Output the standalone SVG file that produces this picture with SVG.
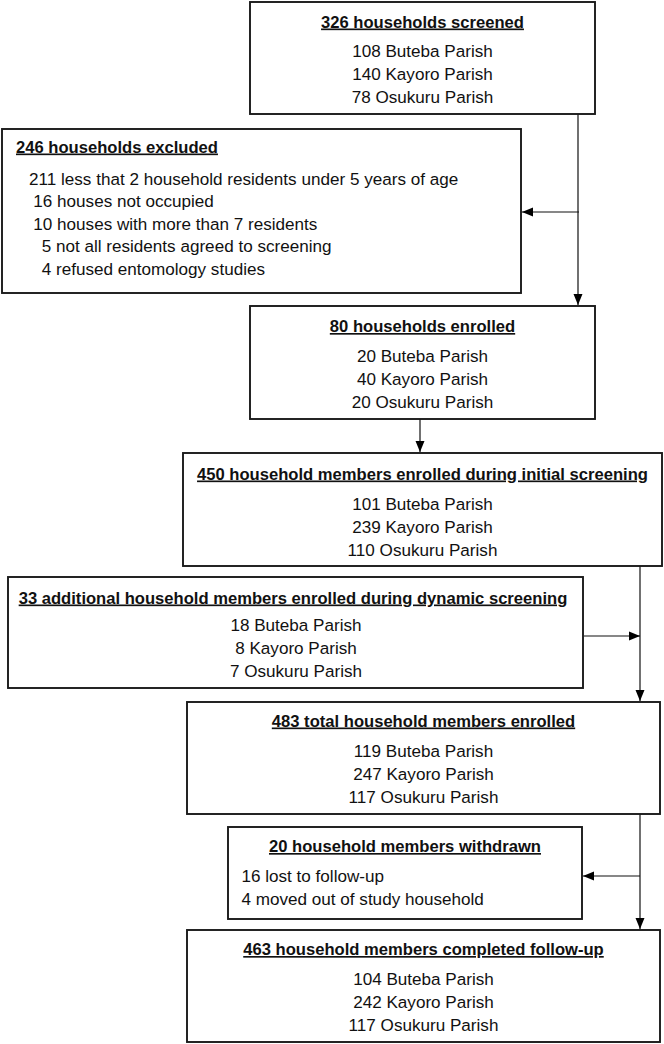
<svg xmlns="http://www.w3.org/2000/svg" width="664" height="1044" viewBox="0 0 664 1044">
<style>
.box{fill:#fff;stroke:#1a1a1a;stroke-width:1.9}
text{font-family:"Liberation Sans",Arial,sans-serif;font-size:17.1px;fill:#111}
.t{font-weight:bold;font-size:16.6px;text-decoration:underline}
.c{text-anchor:middle}
.ln{fill:none;stroke:#111;stroke-width:1.2}
</style>
<defs>
<marker id="ah" markerUnits="userSpaceOnUse" markerWidth="12" markerHeight="10" refX="11" refY="5" orient="auto">
<path d="M0,0.5 L11,5 L0,9.5 Z" fill="#000"/>
</marker>
</defs>
<g id="connectors">
<path class="ln" d="M578,114 V305" marker-end="url(#ah)"/>
<path class="ln" d="M579,212 H522" marker-end="url(#ah)"/>
<path class="ln" d="M420,419 V452" marker-end="url(#ah)"/>
<path class="ln" d="M640,566 V701" marker-end="url(#ah)"/>
<path class="ln" d="M584,636 H640" marker-end="url(#ah)"/>
<path class="ln" d="M640,814 V929" marker-end="url(#ah)"/>
<path class="ln" d="M640,876 H583" marker-end="url(#ah)"/>
</g>
<g id="screened">
<rect class="box" x="250" y="2" width="345" height="112"/>
<text class="t c" x="422.5" y="27.5">326 households screened</text>
<text class="c" x="422.5" y="57">108 Buteba Parish</text>
<text class="c" x="422.5" y="80">140 Kayoro Parish</text>
<text class="c" x="422.5" y="103">78 Osukuru Parish</text>
</g>
<g id="excluded">
<rect class="box" x="2" y="129" width="519" height="164"/>
<text class="t" x="16" y="152.5">246 households excluded</text>
<text x="29" y="184.5">211 less that 2 household residents under 5 years of age</text>
<text x="33.3" y="207.2">16 houses not occupied</text>
<text x="33.3" y="229.8">10 houses with more than 7 residents</text>
<text x="41.7" y="252.4">5 not all residents agreed to screening</text>
<text x="41.7" y="275">4 refused entomology studies</text>
</g>
<g id="enrolled">
<rect class="box" x="250" y="306" width="345" height="113"/>
<text class="t c" x="422.5" y="332">80 households enrolled</text>
<text class="c" x="422.5" y="362">20 Buteba Parish</text>
<text class="c" x="422.5" y="385">40 Kayoro Parish</text>
<text class="c" x="422.5" y="408">20 Osukuru Parish</text>
</g>
<g id="initial">
<rect class="box" x="183" y="453" width="479" height="113"/>
<text class="t c" x="422.5" y="479.5">450 household members enrolled during initial screening</text>
<text class="c" x="422.5" y="509.5">101 Buteba Parish</text>
<text class="c" x="422.5" y="532.5">239 Kayoro Parish</text>
<text class="c" x="422.5" y="555.5">110 Osukuru Parish</text>
</g>
<g id="dynamic">
<rect class="box" x="8" y="577" width="575" height="111"/>
<text class="t c" x="293" y="603.5">33 additional household members enrolled during dynamic screening</text>
<text class="c" x="296" y="631">18 Buteba Parish</text>
<text class="c" x="296" y="654">8 Kayoro Parish</text>
<text class="c" x="296" y="677">7 Osukuru Parish</text>
</g>
<g id="total">
<rect class="box" x="187" y="702" width="473" height="112"/>
<text class="t c" x="423.5" y="726.5">483 total household members enrolled</text>
<text class="c" x="423.5" y="756.5">119 Buteba Parish</text>
<text class="c" x="423.5" y="779.5">247 Kayoro Parish</text>
<text class="c" x="423.5" y="802.5">117 Osukuru Parish</text>
</g>
<g id="withdrawn">
<rect class="box" x="228" y="827" width="354" height="92"/>
<text class="t c" x="405" y="852">20 household members withdrawn</text>
<text x="241.5" y="882">16 lost to follow-up</text>
<text x="241.5" y="905">4 moved out of study household</text>
</g>
<g id="completed">
<rect class="box" x="187" y="930" width="473" height="112"/>
<text class="t c" x="423.5" y="955">463 household members completed follow-up</text>
<text class="c" x="423.5" y="985">104 Buteba Parish</text>
<text class="c" x="423.5" y="1008">242 Kayoro Parish</text>
<text class="c" x="423.5" y="1031">117 Osukuru Parish</text>
</g>
</svg>
